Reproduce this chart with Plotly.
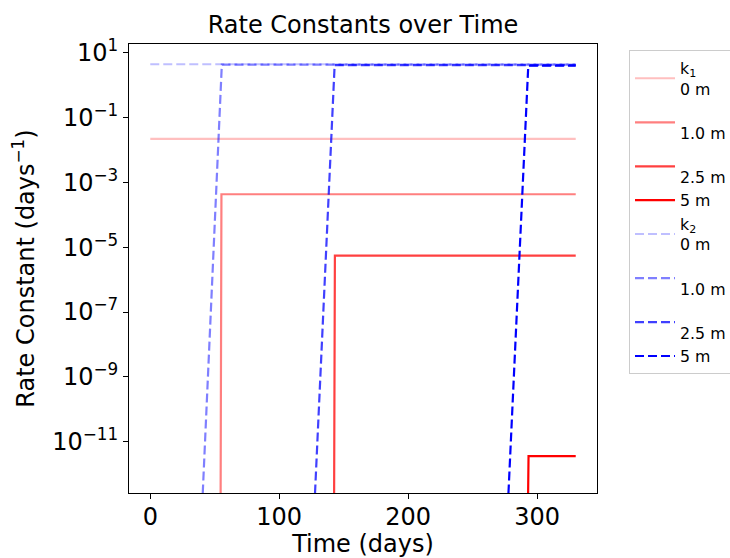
import plotly.graph_objects as go

# ---- data ----
depths = ["0 m", "1.0 m", "2.5 m", "5 m"]
alphas = [0.25, 0.5, 0.75, 1.0]

k1_labels = ["k<sub>1</sub><br>0 m", "<br>1.0 m", "<br>2.5 m", "5 m"]
k2_labels = ["k<sub>2</sub><br>0 m", "<br>1.0 m", "<br>2.5 m", "5 m"]

k1_time_0m = [0, 330]
k1_vals_0m = [0.022, 0.022]
k1_time_1m = [54.4, 55.2, 330]
k1_vals_1m = [1e-15, 4.3e-4, 4.3e-4]
k1_time_25m = [142.4, 143.2, 330]
k1_vals_25m = [1e-15, 5.5e-6, 5.5e-6]
k1_time_5m = [292.4, 293.4, 330]
k1_vals_5m = [1e-15, 3.6e-12, 3.6e-12]

k2_time_0m = [0, 330]
k2_vals_0m = [4.4, 4.4]
k2_time_1m = [38, 55.5, 330]
k2_vals_1m = [1e-15, 4.3, 4.3]
k2_time_25m = [125, 143, 330]
k2_vals_25m = [1e-15, 4.15, 4.15]
k2_time_5m = [275, 293.2, 330]
k2_vals_5m = [1e-15, 4.0, 4.0]

y_tickvals = [1e1, 1e-1, 1e-3, 1e-5, 1e-7, 1e-9, 1e-11]
y_ticktext = ["10<sup>1</sup>", "10<sup>\u22121</sup>", "10<sup>\u22123</sup>",
              "10<sup>\u22125</sup>", "10<sup>\u22127</sup>", "10<sup>\u22129</sup>",
              "10<sup>\u221211</sup>"]
x_tickvals = [0, 100, 200, 300]

k1_times = [k1_time_0m, k1_time_1m, k1_time_25m, k1_time_5m]
k1_vals = [k1_vals_0m, k1_vals_1m, k1_vals_25m, k1_vals_5m]
k2_times = [k2_time_0m, k2_time_1m, k2_time_25m, k2_time_5m]
k2_vals = [k2_vals_0m, k2_vals_1m, k2_vals_25m, k2_vals_5m]

FONT = "DejaVu Sans"

fig = go.Figure()
for t, v, a, lab in zip(k1_times, k1_vals, alphas, k1_labels):
    fig.add_trace(go.Scatter(x=t, y=v, mode="lines", name=lab,
                             line=dict(color=f"rgba(255,0,0,{a})", width=2.2)))
for t, v, a, lab in zip(k2_times, k2_vals, alphas, k2_labels):
    fig.add_trace(go.Scatter(x=t, y=v, mode="lines", name=lab,
                             line=dict(color=f"rgba(0,0,255,{a})", width=2.2, dash="9px,4px")))

fig.update_layout(
    width=730, height=558,
    margin=dict(l=129, r=133, t=44, b=65, autoexpand=False),
    paper_bgcolor="white", plot_bgcolor="white",
    font=dict(family=FONT, color="black", size=24),
    title=dict(text="Rate Constants over Time", x=0.5, xref="paper", xanchor="center",
               y=1 - 25 / 558, yref="container", yanchor="middle",
               font=dict(family=FONT, size=24, color="black")),
    showlegend=True,
    legend=dict(x=1.0684, y=0.9862, xanchor="left", yanchor="top",
                bgcolor="white", bordercolor="#cccccc", borderwidth=1,
                font=dict(family=FONT, size=15.8, color="black"),
                itemwidth=40, tracegroupgap=0),
)
fig.update_xaxes(range=[-16.5, 346.5], tickvals=x_tickvals, ticks="outside", ticklen=5,
                 tickwidth=1, tickcolor="black", showline=True, linecolor="black",
                 linewidth=1, mirror=True, showgrid=False, zeroline=False,
                 ticklabelstandoff=-3,
                 tickfont=dict(family=FONT, size=24),
                 title=dict(text="Time (days)", standoff=9, font=dict(family=FONT, size=24)))
fig.update_yaxes(type="log", range=[-12.582, 1.268], tickvals=y_tickvals, ticktext=y_ticktext,
                 ticks="outside", ticklen=5, tickwidth=1, tickcolor="black",
                 showline=True, linecolor="black", linewidth=1, mirror=True,
                 showgrid=False, zeroline=False,
                 tickfont=dict(family=FONT, size=24),
                 title=dict(text="Rate Constant (days<sup>\u22121</sup>)", standoff=10,
                            font=dict(family=FONT, size=24)))

fig.write_html("out.html")
